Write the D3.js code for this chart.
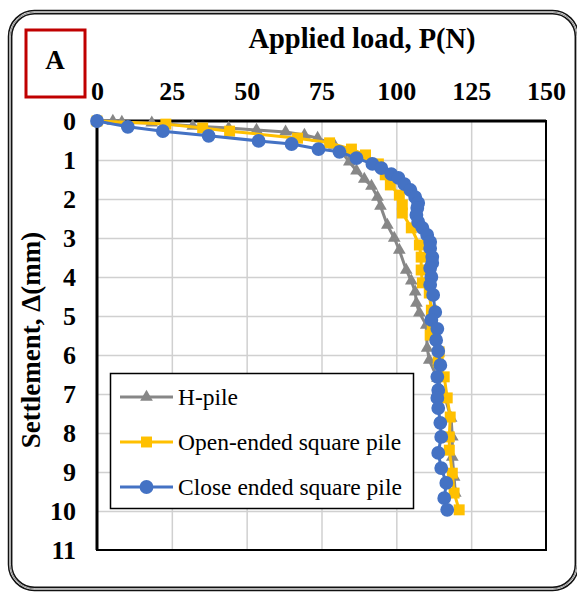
<!DOCTYPE html>
<html>
<head>
<meta charset="utf-8">
<script src="https://cdn.jsdelivr.net/npm/d3@7"></script>
<style>
  html, body { margin: 0; padding: 0; background: #fff; }
  svg { display: block; }
</style>
</head>
<body>
<svg id="chart" width="577" height="593"></svg>
<script>
// Load–settlement data: applied load P (N) against settlement Δ (mm)
const xTicks = [0, 25, 50, 75, 100, 125, 150];
const yTicks = [0, 1, 2, 3, 4, 5, 6, 7, 8, 9, 10, 11];

const hPileLoad = [0, 5.3, 8.3, 18.3, 32, 44, 53.3, 63, 69.3, 73.7, 79.3, 82, 84.3, 86.7, 89.3, 91.7, 93.7, 94.7, 97, 99.3, 101, 103.3, 105, 106.3, 106.7, 107.7, 110, 110.3, 111, 113.7, 116.3, 118.3, 118.7, 118.7, 119.3, 119.7];
const hPileSettle = [0, 0, 0.03, 0.05, 0.13, 0.18, 0.23, 0.28, 0.36, 0.44, 0.62, 0.82, 1.05, 1.28, 1.49, 1.67, 1.95, 2.18, 2.67, 3.0, 3.31, 3.82, 4.1, 4.38, 4.67, 4.92, 5.23, 5.82, 6.13, 6.59, 7.1, 7.62, 8.1, 8.62, 9.13, 9.54];

const openLoad = [0, 23, 35.3, 44.3, 67, 77.7, 85, 89.7, 94, 96.3, 98, 101, 102, 102, 105, 107.7, 108.3, 108.3, 108.7, 111, 111.7, 112, 111.3, 114.3, 114, 116, 117, 118, 117.7, 117.7, 118.7, 119.3, 121];
const openSettle = [0, 0.08, 0.18, 0.26, 0.44, 0.56, 0.72, 0.87, 1.1, 1.38, 1.64, 1.9, 2.15, 2.36, 2.74, 3.18, 3.49, 3.82, 4.15, 4.41, 4.85, 5.23, 5.49, 5.92, 6.18, 6.56, 7.1, 7.59, 8.1, 8.44, 9.03, 9.54, 9.97];

const closeLoad = [0, 10.3, 22, 37.3, 54, 65, 74, 81, 86.7, 92, 95, 98.3, 100.7, 102.7, 104.7, 106.3, 107.3, 107, 106.7, 107.3, 108.7, 110.3, 111.3, 111.3, 112, 112, 111.3, 111.7, 111.3, 112.3, 113, 111.7, 113.7, 113.3, 114, 114.7, 113.7, 114, 113.7, 114, 114.7, 115, 114, 115, 116.7, 116, 117];
const closeSettle = [0, 0.15, 0.26, 0.38, 0.51, 0.59, 0.72, 0.79, 0.95, 1.1, 1.21, 1.36, 1.46, 1.62, 1.77, 1.95, 2.1, 2.23, 2.41, 2.59, 2.74, 2.92, 3.1, 3.26, 3.49, 3.64, 3.77, 4.0, 4.2, 4.46, 4.9, 5.1, 5.33, 5.62, 5.9, 6.26, 6.56, 6.9, 7.1, 7.36, 7.74, 8.1, 8.51, 8.9, 9.28, 9.67, 9.97];

const seriesNames = ["H-pile", "Open-ended square pile", "Close ended square pile"];
const seriesColors = ["#878787", "#ffc000", "#4472c4"];
const seriesSymbols = ["triangle", "square", "circle"];

const series = [
  { name: seriesNames[0], load: hPileLoad, settle: hPileSettle },
  { name: seriesNames[1], load: openLoad, settle: openSettle },
  { name: seriesNames[2], load: closeLoad, settle: closeSettle }
].map((s, i) => ({
  ...s,
  color: seriesColors[i],
  symbol: seriesSymbols[i],
  points: s.load.map((p, j) => ({ p, s: s.settle[j] }))
}));

const svg = d3.select("#chart");
const serif = "'Liberation Serif', 'Times New Roman', serif";

// Outer rounded frame with a double border
const frame = { x: 8.5, y: 10.5, w: 570, h: 580, r: 26 };
svg.append("rect")
  .attr("x", frame.x).attr("y", frame.y).attr("width", frame.w).attr("height", frame.h)
  .attr("rx", frame.r).attr("fill", "#fff").attr("stroke", "#111").attr("stroke-width", 1.5);
svg.append("rect")
  .attr("x", frame.x + 1.6).attr("y", frame.y + 1.6).attr("width", frame.w - 3.2).attr("height", frame.h - 3.2)
  .attr("rx", frame.r - 1.6).attr("fill", "none").attr("stroke", "#888").attr("stroke-width", 1);
svg.append("rect")
  .attr("x", frame.x + 3.2).attr("y", frame.y + 3.2).attr("width", frame.w - 6.4).attr("height", frame.h - 6.4)
  .attr("rx", frame.r - 3.2).attr("fill", "none").attr("stroke", "#111").attr("stroke-width", 1.5);

// Panel label
svg.append("rect")
  .attr("x", 26).attr("y", 30).attr("width", 59).attr("height", 67)
  .attr("fill", "none").attr("stroke", "#c00000").attr("stroke-width", 3);
svg.append("text")
  .attr("x", 55).attr("y", 69).attr("text-anchor", "middle")
  .attr("font-family", serif).attr("font-weight", "bold").attr("font-size", 27)
  .text("A");

// Plot region
const plot = { left: 97, right: 546, top: 121, bottom: 550 };
const x = d3.scaleLinear().domain([0, 150]).range([plot.left, plot.right]);
const y = d3.scaleLinear().domain([0, 11]).range([plot.top, plot.bottom]);

// Gridlines
const grid = svg.append("g");
grid.append("g")
  .attr("transform", `translate(0,${plot.top})`)
  .call(d3.axisTop(x).tickValues(xTicks.slice(1, -1)).tickSize(-(plot.bottom - plot.top)).tickFormat(""))
  .call(g => g.select(".domain").remove())
  .call(g => g.selectAll("line").attr("stroke", "#d0d0d0").attr("stroke-width", 1.5));
grid.append("g")
  .attr("transform", `translate(${plot.left},0)`)
  .call(d3.axisLeft(y).tickValues(yTicks.slice(1, -1)).tickSize(-(plot.right - plot.left)).tickFormat(""))
  .call(g => g.select(".domain").remove())
  .call(g => g.selectAll("line").attr("stroke", "#d0d0d0").attr("stroke-width", 1.5));

// Plot border
svg.append("rect")
  .attr("x", plot.left).attr("y", plot.top)
  .attr("width", plot.right - plot.left).attr("height", plot.bottom - plot.top)
  .attr("fill", "none").attr("stroke", "#000").attr("stroke-width", 2);
svg.append("line")
  .attr("x1", plot.left).attr("x2", plot.right).attr("y1", plot.top).attr("y2", plot.top)
  .attr("stroke", "#000").attr("stroke-width", 3);
svg.append("line")
  .attr("x1", plot.left).attr("x2", plot.left).attr("y1", plot.top).attr("y2", plot.bottom)
  .attr("stroke", "#000").attr("stroke-width", 3);

// Axes (labels only)
const xAxis = svg.append("g")
  .attr("transform", `translate(0,${plot.top - 21})`)
  .call(d3.axisTop(x).tickValues(xTicks).tickSize(0).tickPadding(0).tickFormat(d3.format("d")));
xAxis.select(".domain").remove();
xAxis.selectAll("text")
  .attr("font-family", serif).attr("font-weight", "bold").attr("font-size", 26).attr("fill", "#000");

const yAxis = svg.append("g")
  .attr("transform", `translate(${plot.left - 21},0)`)
  .call(d3.axisLeft(y).tickValues(yTicks).tickSize(0).tickPadding(0).tickFormat(d3.format("d")));
yAxis.select(".domain").remove();
yAxis.selectAll("text")
  .attr("font-family", serif).attr("font-weight", "bold").attr("font-size", 26).attr("fill", "#000");

// Axis titles
svg.append("text")
  .attr("x", 362).attr("y", 48).attr("text-anchor", "middle")
  .attr("font-family", serif).attr("font-weight", "bold").attr("font-size", 28.5)
  .text("Applied load, P(N)");
svg.append("text")
  .attr("transform", `translate(40,${340}) rotate(-90)`)
  .attr("text-anchor", "middle")
  .attr("font-family", serif).attr("font-weight", "bold").attr("font-size", 27)
  .text("Settlement, Δ(mm)");

// Series
const line = d3.line().x(d => x(d.p)).y(d => y(d.s));
const symbolTypes = { triangle: d3.symbolTriangle, square: d3.symbolSquare, circle: d3.symbolCircle };
const symbolSizes = { triangle: 70, square: 120, circle: 150 };

series.forEach(s => {
  const g = svg.append("g");
  g.append("path")
    .datum(s.points)
    .attr("d", line)
    .attr("fill", "none").attr("stroke", s.color).attr("stroke-width", 3)
    .attr("stroke-linejoin", "round");
  g.selectAll("path.pt")
    .data(s.points)
    .join("path")
    .attr("class", "pt")
    .attr("transform", d => `translate(${x(d.p)},${y(d.s)})`)
    .attr("d", d3.symbol().type(symbolTypes[s.symbol]).size(symbolSizes[s.symbol]))
    .attr("fill", s.color);
});

// Legend
const legend = svg.append("g");
legend.append("rect")
  .attr("x", 110.5).attr("y", 373.5).attr("width", 303).attr("height", 135)
  .attr("fill", "#fff").attr("stroke", "#000").attr("stroke-width", 1.5);
const rowY = [397, 442, 487];
series.forEach((s, i) => {
  const row = legend.append("g").attr("transform", `translate(0,${rowY[i]})`);
  row.append("line")
    .attr("x1", 120).attr("x2", 173).attr("y1", 0).attr("y2", 0)
    .attr("stroke", s.color).attr("stroke-width", 3);
  row.append("path")
    .attr("transform", "translate(146.5,0)")
    .attr("d", d3.symbol().type(symbolTypes[s.symbol]).size(symbolSizes[s.symbol]))
    .attr("fill", s.color);
  row.append("text")
    .attr("x", 178).attr("y", 0).attr("dy", "0.35em")
    .attr("font-family", serif).attr("font-size", 23.5).attr("fill", "#000")
    .text(s.name);
});
</script>
</body>
</html>
